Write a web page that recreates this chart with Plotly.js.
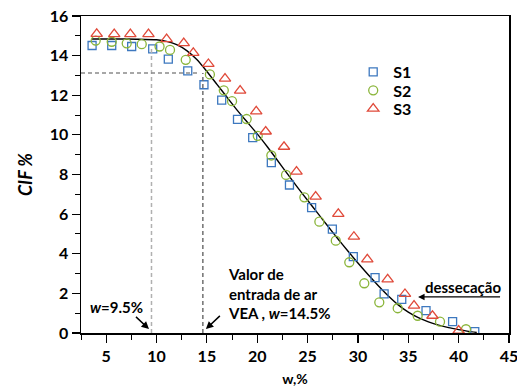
<!DOCTYPE html>
<html>
<head>
<meta charset="utf-8">
<script src="https://cdn.plot.ly/plotly-3.0.1.min.js"></script>
<style>html,body{margin:0;padding:0;background:#fff;}#chart{width:517px;height:391px;}</style>
</head>
<body>
<div id="chart"></div>
<script>
// S1 (squares)
const s1W = [3.6, 5.55, 7.53, 9.62, 11.17, 13.1, 14.71, 16.47, 18.04, 19.55, 21.4, 23.2, 25.4, 27.46, 29.54, 31.7, 32.6, 34.35, 36.76, 39.4, 41.6];
const s1C = [14.51, 14.51, 14.46, 14.34, 13.82, 13.23, 12.53, 11.75, 10.78, 9.86, 8.6, 7.47, 6.33, 5.24, 3.85, 2.79, 1.97, 1.7, 1.13, 0.57, 0.07];
// S2 (circles)
const s2W = [3.96, 5.55, 7.04, 8.53, 10.3, 11.34, 12.9, 15.3, 16.68, 17.5, 18.95, 20.05, 21.4, 22.86, 24.68, 26.17, 27.8, 29.14, 30.63, 32.12, 33.95, 35.93, 38.15, 40.73];
const s2C = [14.76, 14.7, 14.62, 14.58, 14.46, 14.29, 13.79, 13.05, 12.25, 11.7, 10.8, 9.95, 8.96, 7.98, 6.85, 5.62, 4.66, 3.57, 2.51, 1.55, 1.25, 0.87, 0.57, 0.19];
// S3 (triangles)
const s3W = [4.06, 5.8, 7.4, 9.2, 11.0, 12.7, 13.65, 15.15, 16.8, 18.3, 19.9, 20.84, 22.66, 23.9, 25.8, 28.05, 29.6, 30.93, 32.95, 34.67, 35.57, 37.4, 40.0];
const s3C = [15.1, 15.09, 15.09, 15.09, 14.83, 14.63, 14.14, 13.58, 12.84, 12.23, 11.19, 10.17, 9.4, 8.15, 6.88, 6.01, 4.86, 3.72, 2.71, 1.97, 1.38, 0.87, 0.12];
// fitted curve
const fitW = [3.6, 6, 8, 10, 11, 12, 13, 14, 15, 16, 17, 18, 19, 20, 21, 22, 23, 24, 25, 26, 27, 28, 29, 30, 31, 32, 33, 34, 35, 36, 37, 38, 39, 40, 41, 41.8];
const fitC = [14.84, 14.84, 14.83, 14.8, 14.72, 14.55, 14.25, 13.8, 13.2, 12.55, 11.9, 11.25, 10.65, 10.05, 9.4, 8.72, 8.03, 7.35, 6.7, 6.05, 5.4, 4.76, 4.14, 3.53, 2.95, 2.4, 1.88, 1.42, 1.05, 0.77, 0.56, 0.4, 0.27, 0.17, 0.08, 0.03];
// reference values
const wFirst = 9.5, cifFirst = 14.45;
const wVEA = 14.6, cifVEA = 13.12;
const xTickVals = [5, 10, 15, 20, 25, 30, 35, 40, 45];
const yTickVals = [0, 2, 4, 6, 8, 10, 12, 14, 16];

const FONT = 'Lato, "Open Sans", sans-serif';
const mk = (sym, col, size) => ({symbol: sym, size: size, color: col, line: {color: col, width: 1.3}});
const leg = (top) => ({x: 0.636, y: top, xanchor: 'left', yanchor: 'top', bgcolor: 'rgba(0,0,0,0)',
                       font: {family: FONT, size: 16, weight: 'bold'}, itemwidth: 30});

const traces = [
  {x: fitW, y: fitC, mode: 'lines', line: {color: '#000', width: 1.4, shape: 'spline', smoothing: 0.6}, showlegend: false, hoverinfo: 'skip'},
  {x: s1W, y: s1C, mode: 'markers', name: 'S1', legend: 'legend', marker: mk('square-open', '#3d78bf', 8)},
  {x: s2W, y: s2C, mode: 'markers', name: 'S2', legend: 'legend2', marker: mk('circle-open', '#8ab53a', 9)},
  {x: s3W, y: s3C, mode: 'markers', name: 'S3', legend: 'legend3', marker: mk('triangle-up-open', '#e04a3a', 10)}
];

const layout = {
  width: 517, height: 391,
  margin: {l: 81, r: 8, t: 16, b: 58},
  paper_bgcolor: '#fff', plot_bgcolor: '#fff',
  font: {family: FONT, color: '#000'},
  showlegend: true,
  legend: leg(0.877),
  legend2: leg(0.819),
  legend3: leg(0.761),
  xaxis: {range: [2.5, 45], tickvals: xTickVals, ticks: 'outside', ticklen: 8, tickwidth: 1.2, tickcolor: '#000',
          minor: {dtick: 2.5, tick0: 0, ticks: 'outside', ticklen: 5, tickcolor: '#000', tickwidth: 1},
          showline: true, linecolor: '#000', linewidth: 1.5, mirror: true, showgrid: false, zeroline: false,
          ticklabeloverflow: 'allow',
          tickfont: {family: FONT, size: 16, weight: 'bold'},
          title: {text: 'w,%', font: {family: FONT, size: 14, weight: 'bold'}, standoff: 10}},
  yaxis: {range: [0, 16], tickvals: yTickVals, ticks: 'outside', ticklen: 8, tickwidth: 1.2, tickcolor: '#000',
          minor: {dtick: 1, tick0: 0, ticks: 'outside', ticklen: 5, tickcolor: '#000', tickwidth: 1},
          showline: true, linecolor: '#000', linewidth: 1.5, mirror: true, showgrid: false, zeroline: false,
          ticklabeloverflow: 'allow',
          tickfont: {family: FONT, size: 16, weight: 'bold'},
          title: {text: '<i>CIF %</i>', font: {family: FONT, size: 18, weight: 'bold'}, standoff: 12}},
  shapes: [
    {type: 'line', xref: 'x', yref: 'y', x0: wFirst, x1: wFirst, y0: 0, y1: cifFirst, line: {color: '#b0b0b0', width: 1.5, dash: '4px,3px'}},
    {type: 'line', xref: 'x', yref: 'y', x0: wVEA, x1: wVEA, y0: 0, y1: cifVEA, line: {color: '#707070', width: 1.5, dash: '4px,3px'}},
    {type: 'line', xref: 'paper', yref: 'y', x0: 0, x1: (14.3 - 2.5) / 42.5, y0: cifVEA, y1: cifVEA, line: {color: '#8a8a8a', width: 1.5, dash: '4px,3px'}}
  ],
  annotations: [
    {x: 6.07, y: 1.31, xref: 'x', yref: 'y', text: '<i>w</i>=9.5%', showarrow: false, font: {family: FONT, size: 15, weight: 'bold'}},
    {x: 9.25, y: 0.2, xref: 'x', yref: 'y', text: ' ', showarrow: true, ax: -16, ay: -15, arrowhead: 2, arrowsize: 1, arrowwidth: 1.5, arrowcolor: '#000', standoff: 0},
    {x: 16.9, y: 1.97, xref: 'x', yref: 'y', xanchor: 'left', align: 'left', text: 'Valor de<br>entrada de ar<br>VEA , <i>w</i>=14.5%', showarrow: false, font: {family: FONT, size: 15, weight: 'bold'}},
    {x: 14.9, y: 0.2, xref: 'x', yref: 'y', text: ' ', showarrow: true, ax: 17, ay: -16, arrowhead: 2, arrowsize: 1, arrowwidth: 1.5, arrowcolor: '#000', standoff: 0},
    {x: 40.43, y: 2.32, xref: 'x', yref: 'y', text: 'dessecação', showarrow: false, font: {family: FONT, size: 15, weight: 'bold'}},
    {x: 35.97, y: 1.82, xref: 'x', yref: 'y', text: ' ', showarrow: true, ax: 85, ay: 0, arrowhead: 2, arrowsize: 1, arrowwidth: 1.3, arrowcolor: '#000', standoff: 0}
  ]
};

Plotly.newPlot('chart', traces, layout, {staticPlot: true, displayModeBar: false});
</script>
</body>
</html>
